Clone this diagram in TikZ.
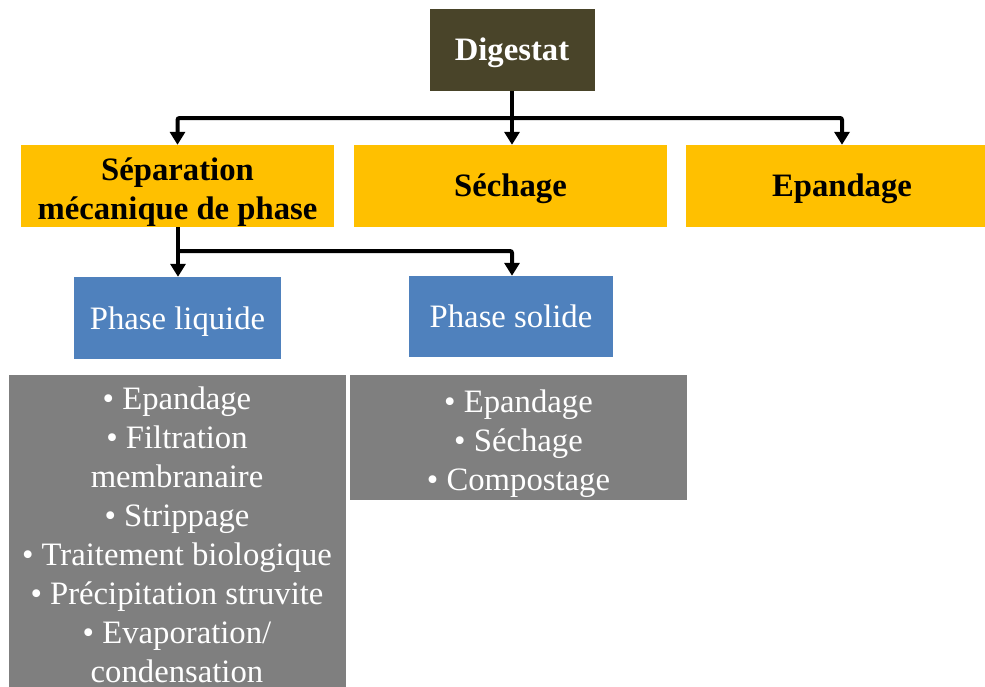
\documentclass[tikz,border=0pt]{standalone}
\usepackage{fontspec}
\setmainfont{Liberation Serif}
\usetikzlibrary{arrows.meta}
\definecolor{darktan}{HTML}{494429}
\definecolor{gold}{HTML}{FFC000}
\definecolor{steel}{HTML}{4F81BD}
\definecolor{slate}{HTML}{7F7F7F}
% strut with the font's full ascent and descent, so lines centre like slide text
\newcommand\linestrut{\rule[-7.1pt]{0pt}{36.2pt}}
% taller opening strut, lowers a block of lines a little
\newcommand\topstrut{\rule{0pt}{35.1pt}}
\tikzset{
  box/.style={rectangle, inner sep=0pt, align=center,
    font=\fontsize{32.7}{39}\selectfont},
  rootbox/.style={box, fill=darktan, text=white, font=\fontsize{32.7}{39}\selectfont\bfseries,
    minimum width=165pt, minimum height=82pt},
  methodbox/.style={box, fill=gold, text=black, font=\fontsize{32.7}{39}\selectfont\bfseries,
    minimum width=313pt, minimum height=82pt},
  phasebox/.style={box, fill=steel, text=white, minimum height=82pt},
  listbox/.style={box, fill=slate, text=white, minimum width=337pt},
  conn/.style={line width=4pt, rounded corners=2pt,
    -{Triangle[width=15pt,length=13pt]}},
}
\begin{document}
\begin{tikzpicture}[x=1pt,y=-1pt]
\useasboundingbox (0,0) rectangle (985,686);
% top level
\node[rootbox] (dig) at (512,50) {\linestrut Digestat};
% treatment routes
\node[methodbox] (sep) at (177.5,186) {\topstrut Séparation\\mécanique de phase\linestrut};
\node[methodbox] (sec) at (510.5,186) {\linestrut Séchage};
\node[methodbox] (epa) at (842,186) {\linestrut Epandage};
% phases after separation
\node[phasebox, minimum width=207pt] (liq) at (177.5,318) {\linestrut Phase liquide};
\node[phasebox, minimum width=204pt, minimum height=81pt] (sol) at (511,316.5) {\linestrut Phase solide};
% treatment options for each phase
\node[listbox, minimum height=319pt] (liqlist) at (177,534.5)
  {\linestrut • Epandage\\• Filtration\\membranaire\\• Strippage\\• Traitement biologique\\• Précipitation struvite\\• Evaporation/\\condensation\linestrut};
\node[listbox, minimum height=125pt] (sollist) at (518.5,437.5)
  {\topstrut • Epandage\\• Séchage\\• Compostage\linestrut};
% connectors
\coordinate (bus1) at (512,118);
\draw[conn] (dig.south) -- (dig.south |- sec.north);
\draw[conn] (bus1) -| (sep.north);
\draw[conn] (bus1) -| (epa.north);
\coordinate (bus2) at (178,251);
\draw[conn] (sep.south -| bus2) -- (liq.north -| bus2);
\draw[conn] (bus2) -| (sol.north -| dig.south);
\end{tikzpicture}
\end{document}
